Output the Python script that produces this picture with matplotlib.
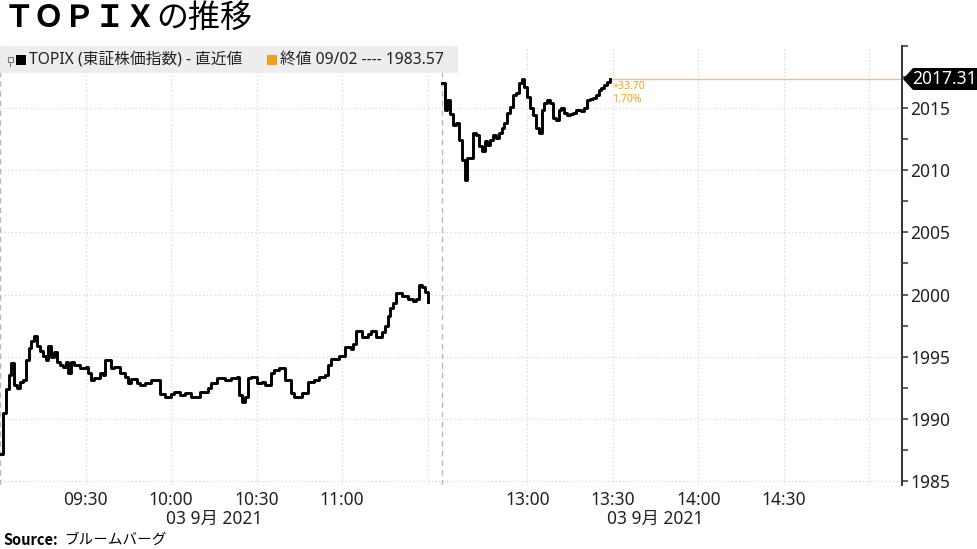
import matplotlib
matplotlib.use("Agg")
import matplotlib.pyplot as plt
from matplotlib.patches import Rectangle, Polygon
from matplotlib.transforms import IdentityTransform, blended_transform_factory

plt.rcParams['font.family'] = ['Noto Sans', 'Noto Sans CJK JP', 'DejaVu Sans']

# morning session: minutes after 09:00
am_min = [0, 1, 2, 3, 4, 5, 6, 7, 8, 9, 10, 11, 12, 13, 14, 15, 16, 17, 18, 19,
          20, 21, 22, 23, 24, 25, 26, 28, 30, 31, 32, 33, 35, 36, 37, 39, 40, 42, 44, 45,
          46, 48, 49, 51, 53, 56, 58, 60, 61, 63, 65, 67, 70, 73, 74, 76, 79, 81, 83, 84,
          85, 86, 87, 88, 90, 92, 93, 95, 96, 98, 100, 102, 103, 105, 106, 108, 110, 112, 114, 115,
          116, 118, 119, 121, 123, 124, 125, 127, 129, 130, 132, 134, 135, 136, 137, 138, 139, 140, 141, 143,
          145, 146, 147, 148, 149, 150]
am_val = [1987.2, 1990.5, 1992.4, 1993.5, 1994.5, 1992.7, 1992.5, 1993.0, 1993.1, 1994.7,
          1995.7, 1996.3, 1996.7, 1995.9, 1995.5, 1995.1, 1994.7, 1995.9, 1995.0, 1995.4,
          1994.6, 1994.3, 1994.2, 1994.6, 1993.7, 1994.6, 1994.3, 1994.1, 1994.2, 1993.7,
          1993.1, 1993.3, 1993.7, 1993.5, 1994.7, 1994.1, 1994.2, 1993.7, 1993.4, 1992.9,
          1993.2, 1992.9, 1992.7, 1992.9, 1993.1, 1992.0, 1991.8, 1992.0, 1992.2, 1991.9,
          1992.1, 1991.8, 1992.2, 1992.5, 1992.9, 1993.3, 1993.1, 1993.3, 1993.4, 1991.9,
          1991.4, 1991.8, 1993.3, 1993.4, 1992.9, 1993.0, 1992.7, 1993.7, 1993.9, 1994.1,
          1993.1, 1992.1, 1991.8, 1991.8, 1992.1, 1993.0, 1993.1, 1993.4, 1993.5, 1994.3,
          1994.8, 1994.8, 1995.1, 1995.8, 1995.6, 1996.0, 1997.1, 1996.6, 1996.8, 1997.1,
          1996.6, 1997.0, 1997.5, 1998.3, 1998.9, 1999.3, 2000.1, 2000.1, 1999.9, 1999.6,
          1999.5, 1999.6, 2000.8, 2000.6, 2000.2, 1999.4]

# afternoon session: minutes after 12:30
pm_min = list(range(60))
pm_val = [2017.0, 2014.8, 2015.6, 2014.5, 2013.6, 2013.8, 2012.4, 2010.8, 2009.2, 2011.0,
          2011.0, 2013.0, 2012.8, 2011.9, 2011.5, 2012.3, 2012.0, 2012.4, 2012.8, 2012.6,
          2013.0, 2013.4, 2013.8, 2014.6, 2015.1, 2016.0, 2016.2, 2017.0, 2017.3, 2016.7,
          2015.9, 2015.0, 2014.4, 2013.4, 2013.0, 2014.8, 2015.4, 2015.6, 2015.4, 2014.2,
          2014.0, 2014.8, 2015.0, 2014.6, 2014.4, 2014.5, 2014.6, 2014.8, 2014.8, 2014.7,
          2015.0, 2015.6, 2015.7, 2015.8, 2016.0, 2016.4, 2016.6, 2016.8, 2017.1, 2017.31]

last_price = 2017.31
change_txt = ["+33.70", "1.70%"]
legend_main = "TOPIX (東証株価指数) - 直近値"
legend_close = "終値 09/02 ---- 1983.57"

time_ticks = [30, 60, 90, 120, 185, 215, 245, 275]
time_labels = ["09:30", "10:00", "10:30", "11:00", "13:00", "13:30", "14:00", "14:30"]
date_pos = [75, 230]
date_label = "03 9月 2021"

PM_OFFSET = 155   # 12:30 sits 5 "minutes" after 11:30 on the compressed axis
W, H = 977, 549
orange = '#f0a020'

fig = plt.figure(figsize=(W / 100, H / 100), dpi=100)
ax = fig.add_axes([0, 1 - 485 / H, 902 / W, 439.5 / H])

pm_x = [PM_OFFSET + m for m in pm_min]
ax.plot(am_min, am_val, drawstyle='steps-post', color='black', lw=2.1, zorder=3)
ax.plot(pm_x, pm_val, drawstyle='steps-post', color='black', lw=2.1, zorder=3)

ax.set_xlim(0, 902 / 2.85)
ax.set_ylim(1984.7, 2020)

# grid
for y in range(1985, 2020, 5):
    ax.axhline(y, color='#d6d6d6', lw=0.9, ls=(0, (1, 2)), zorder=1)
for x in [30, 60, 90, 120, 150, 185, 215, 245, 275, 305]:
    ax.axvline(x, color='#d6d6d6', lw=0.9, ls=(0, (1, 2)), zorder=1)
for x in [0, PM_OFFSET]:
    ax.axvline(x, color='#b8b8b8', lw=1.0, ls=(0, (4, 3)), zorder=1)

for s in ['top', 'left', 'bottom']:
    ax.spines[s].set_visible(False)
ax.spines['right'].set_color('#333333')
ax.spines['right'].set_linewidth(1.4)

ax.yaxis.tick_right()
yt = list(range(1985, 2021, 5))
ax.set_yticks(yt)
ax.set_yticklabels([str(v) if v < 2020 else '' for v in yt])
ax.set_yticks([v + 2.5 for v in range(1985, 2020, 5)], minor=True)
ax.tick_params(axis='y', which='both', direction='out', length=4, width=1.1,
               pad=2, labelsize=12.5, colors='#333333', labelcolor='#222222')

ax.set_xticks(time_ticks)
ax.set_xticklabels(time_labels)
ax.tick_params(axis='x', length=0, pad=4, labelsize=12.5, labelcolor='#222222')

tr = blended_transform_factory(ax.transData, fig.transFigure)
for xp in date_pos:
    ax.text(xp, 1 - 519 / H, date_label, transform=tr, ha='center', va='center',
            fontsize=12.5, color='#222222')

# last price line and change
last_x = pm_x[-1]
ax.plot([last_x, ax.get_xlim()[1]], [last_price, last_price], color='#f2c27a', lw=1.0, zorder=2)
ax.annotate(change_txt[0], (last_x, last_price), xytext=(1.5, -5.5), textcoords='offset points',
            fontsize=7.5, color=orange, va='center', ha='left')
ax.annotate(change_txt[1], (last_x, last_price), xytext=(1.5, -15), textcoords='offset points',
            fontsize=7.5, color=orange, va='center', ha='left')

# price tag on the axis
yd = ax.transData.transform((0, last_price))[1]
tag = Polygon([(903, yd), (913, yd + 11), (977, yd + 11), (977, yd - 11), (913, yd - 11)],
              closed=True, facecolor='black', edgecolor='none', transform=IdentityTransform(), zorder=5)
fig.add_artist(tag)
fig.text(944, yd, f"{last_price:.2f}", transform=IdentityTransform(), color='white',
         fontsize=12.5, ha='center', va='center', zorder=6)

# legend band
band = Rectangle((0, H - 73), 458, 27, facecolor='#ebebeb', edgecolor='none', alpha=0.9,
                 transform=IdentityTransform(), zorder=4)
fig.add_artist(band)
fig.add_artist(Rectangle((8, H - 62), 5, 5, facecolor='none', edgecolor='#777777', lw=0.8,
                         transform=IdentityTransform(), zorder=5))
fig.add_artist(Rectangle((10, H - 67), 1, 5, facecolor='#777777', edgecolor='none',
                         transform=IdentityTransform(), zorder=5))
fig.add_artist(Rectangle((16, H - 65), 10, 10, facecolor='black', edgecolor='none',
                         transform=IdentityTransform(), zorder=5))
fig.add_artist(Rectangle((267, H - 65), 10, 10, facecolor=orange, edgecolor='none',
                         transform=IdentityTransform(), zorder=5))
fig.text(29 / W, 1 - 60 / H, legend_main, fontsize=11.3, va='center', ha='left', color='#222222', zorder=5)
fig.text(280 / W, 1 - 60 / H, legend_close, fontsize=11.3, va='center', ha='left', color='#222222', zorder=5)

# title
t1 = fig.text(4 / W, 1 - 18 / H, "ＴＯＰＩＸ", fontsize=22, weight='bold',
              family='Noto Sans CJK JP', va='center', ha='left')
r = fig.canvas.get_renderer()
bb = t1.get_window_extent(r)
fig.text(bb.x1 / W, 1 - 18 / H, "の推移", fontsize=23, family='Noto Sans CJK JP',
         va='center', ha='left')

# source
s1 = fig.text(3 / W, 1 - 540 / H, "Source:", fontsize=10.5, weight='bold',
              family='Noto Sans CJK JP', va='center', ha='left')
bb = s1.get_window_extent(r)
fig.text((bb.x1 + 6) / W, 1 - 540 / H, "ブルームバーグ", fontsize=10.5,
         family='Noto Sans CJK JP', va='center', ha='left')

fig.savefig("out.png", dpi=100)
